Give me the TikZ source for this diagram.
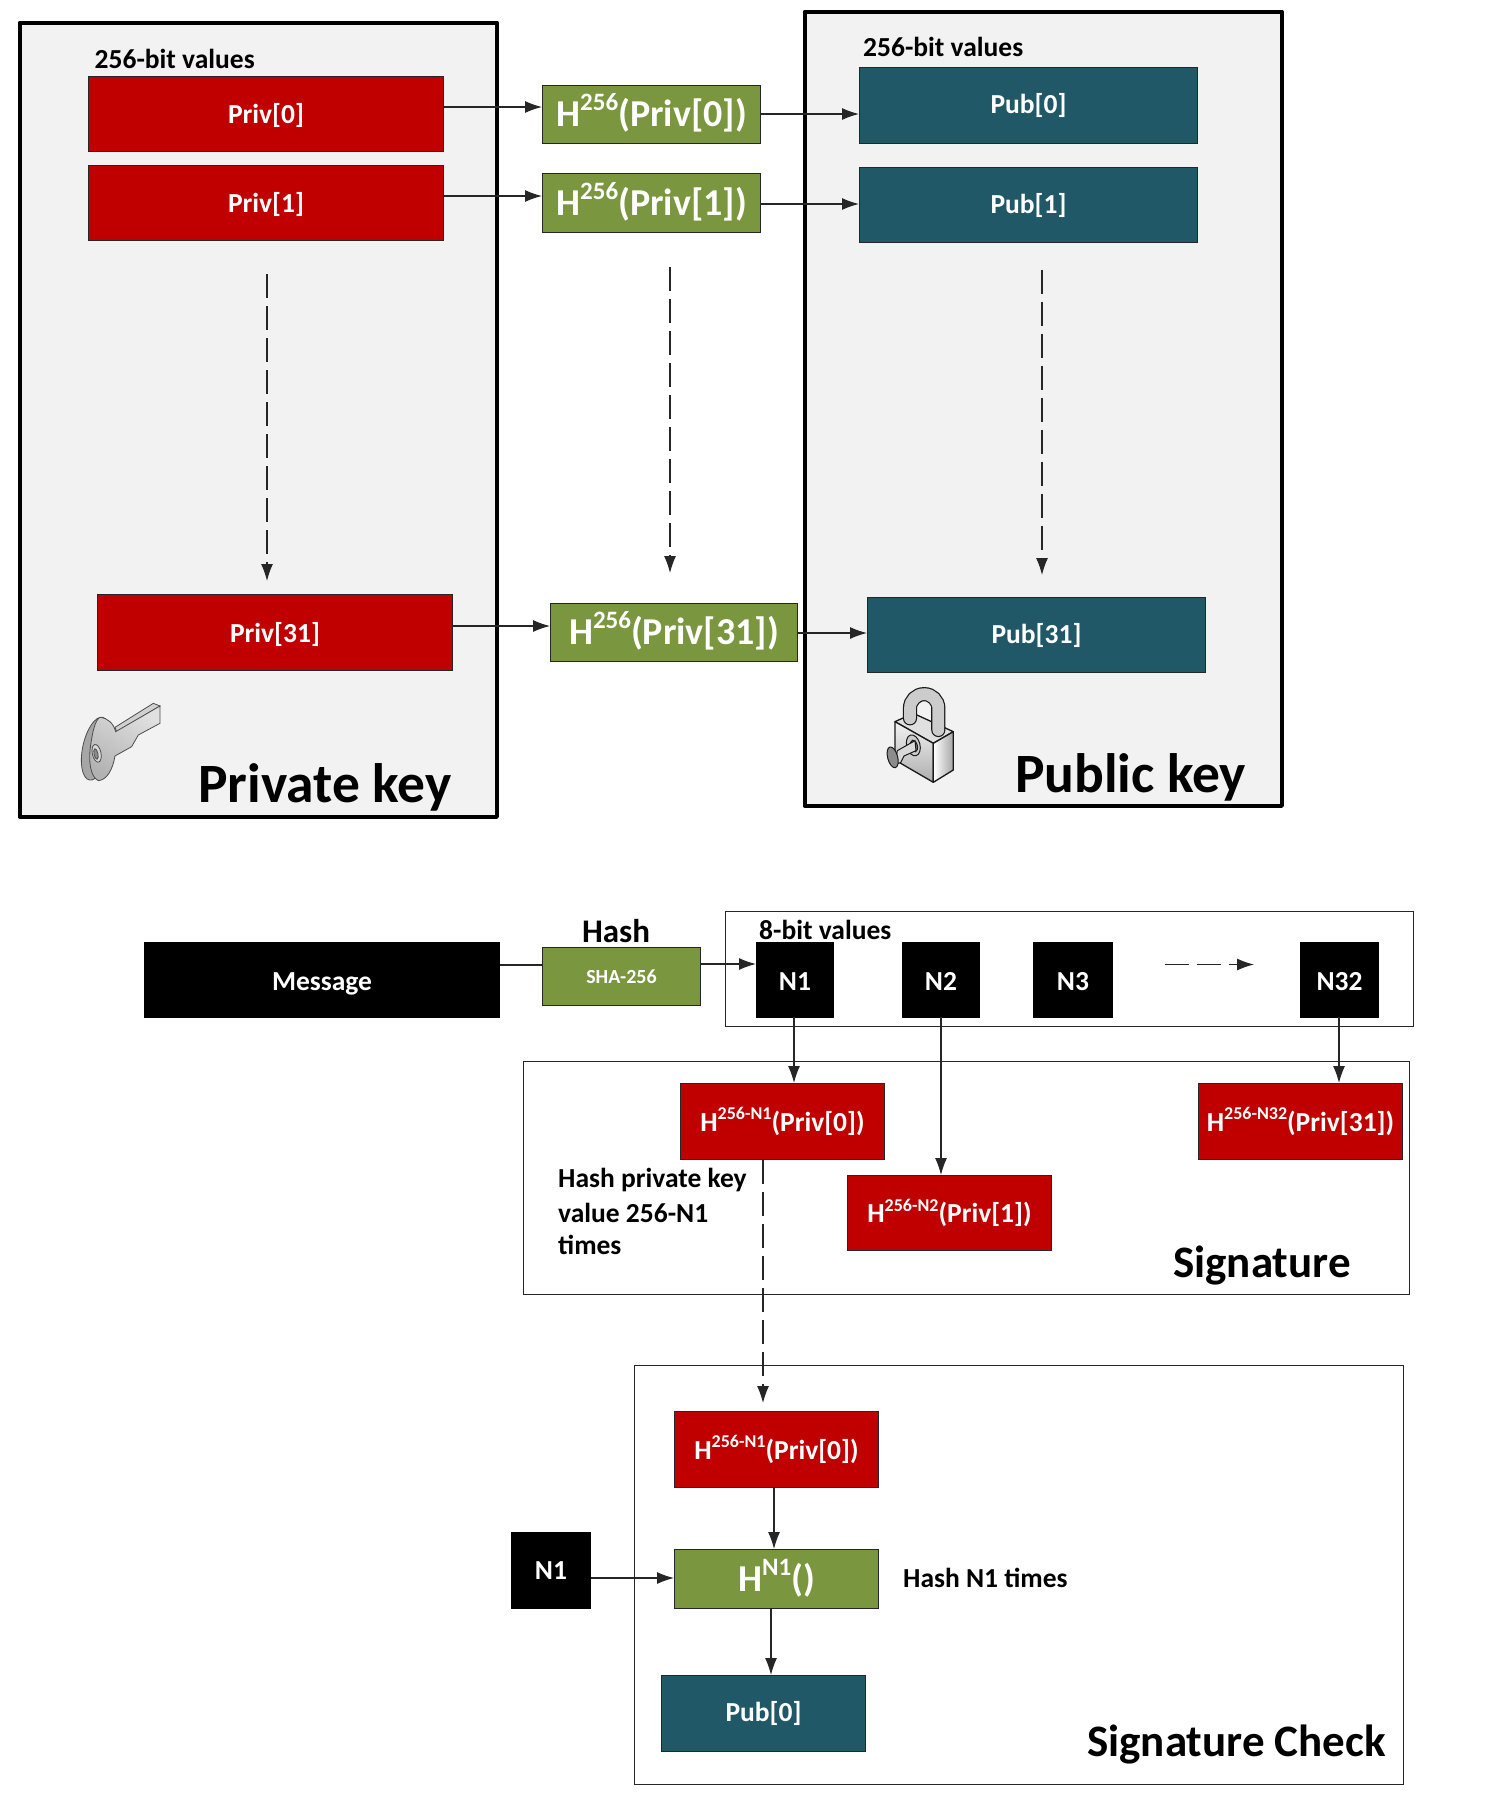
\documentclass[tikz,border=0pt]{standalone}
\usepackage{fontspec}
\setmainfont{Carlito}
\usetikzlibrary{arrows.meta}
\definecolor{cred}{HTML}{C00000}
\definecolor{cgreen}{HTML}{7A963F}
\definecolor{cteal}{HTML}{215868}
\definecolor{cframe}{HTML}{F2F2F2}
\definecolor{cline}{HTML}{262626}
\newcommand\fs[1]{\fontsize{#1}{#1}\selectfont}
\newcommand\hbig[2]{\raisebox{1.2pt}[\height][\depth]{\fs{38}H\raisebox{.42em}{\fs{25}#1}#2}}
\newcommand\hmid[2]{\fs{27.5}H\raisebox{.42em}{\fs{18}#1}#2}
\newcommand\dn[2]{\raisebox{-#1pt}[\height][\depth]{#2}}
\tikzset{
  bx/.style={draw=cline,line width=1pt,inner sep=0pt,text=white,font=\bfseries\fs{27.5}},
  redbox/.style={bx,fill=cred},
  greenbox/.style={bx,fill=cgreen},
  tealbox/.style={bx,fill=cteal},
  blackbox/.style={bx,fill=black,draw=black},
  bigframe/.style={draw=black,line width=4.5pt,fill=cframe,line join=round},
  thinframe/.style={draw=cline,line width=1.1pt,fill=white},
  lab/.style={inner sep=0pt,font=\bfseries\fs{27.5},text=black},
  title/.style={inner sep=0pt,font=\bfseries\fs{45},text=black},
  bigtitle/.style={inner sep=0pt,font=\bfseries\fs{55.5},text=black},
  conn/.style={draw=cline,line width=1.2pt,-{Latex[length=17pt,width=12pt]}},
  plain/.style={draw=cline,line width=1.2pt},
  dconn/.style={conn,dash pattern=on 24pt off 8pt},
}
\newcommand\bxn[6]{\node[#1,minimum width={#5-#3},minimum height={#6-#4},anchor=north west] (#2) at (#3,#4)}
\begin{document}
\begin{tikzpicture}[x=1pt,y=-1pt]
\path[use as bounding box,fill=white] (0,0) rectangle (1489,1807);
% top frames
\node[bigframe,minimum width=477pt,minimum height=794pt,anchor=north west,inner sep=0pt] (fpriv) at (17.5,20.5) {};
\node[bigframe,minimum width=477pt,minimum height=794pt,anchor=north west,inner sep=0pt] (fpub) at (802.5,9.5) {};
\node[lab,anchor=west] (l256a) at (94.5,59) {256-bit values};
\node[lab,anchor=west] (l256b) at (863,47) {256-bit values};
\bxn{redbox}{priv0}{88}{76}{443}{151} {\dn{1.2}{Priv[0]}};
\bxn{redbox}{priv1}{88}{165}{443}{240} {\dn{1.2}{Priv[1]}};
\bxn{redbox}{priv31}{97}{594}{452}{670} {\dn{1.5}{Priv[31]}};
\bxn{greenbox}{h0}{542}{85}{760}{143} {\hbig{256}{(Priv[0])}};
\bxn{greenbox}{h1}{542}{173}{760}{232} {\hbig{256}{(Priv[1])}};
\bxn{greenbox}{h31}{550}{603}{797}{661} {\hbig{256}{(Priv[31])}};
\bxn{tealbox}{pub0}{859}{67}{1197}{143} {Pub[0]};
\bxn{tealbox}{pub1}{859}{167}{1197}{242} {Pub[1]};
\bxn{tealbox}{pub31}{867}{597}{1205}{672} {Pub[31]};
\draw[conn] (priv0.east |- 0,107) -- (h0.west |- 0,107);
\draw[conn] (priv1.east |- 0,196) -- (h1.west |- 0,196);
\draw[conn] (priv31.east |- 0,626) -- (h31.west |- 0,626);
\draw[conn] (h0.east |- 0,114) -- (pub0.west |- 0,114);
\draw[conn] (h1.east |- 0,204) -- (pub1.west |- 0,204);
\draw[conn] (h31.east |- 0,633) -- (pub31.west |- 0,633);
\coordinate (d1a) at (267,274); \coordinate (d1b) at (267,581);
\coordinate (d2a) at (670,267); \coordinate (d2b) at (670,573);
\coordinate (d3a) at (1042,270); \coordinate (d3b) at (1042,575);
\draw[dconn] (d1a) -- (d1b);
\draw[dconn] (d2a) -- (d2b);
\draw[dconn] (d3a) -- (d3b);
\node[bigtitle,anchor=base west] (tpriv) at (198,802) {Private key};
\node[bigtitle,anchor=base west] (tpub) at (1015,792) {Public key};
% key icon
\begin{scope}[shift={(0,620)},x=0.3333pt,y=-0.3333pt,line width=.8pt,draw=black!70]
  \draw[fill=black!35,rotate around={-12:(288,386)}] (288,386) ellipse[x radius=40,y radius=96];
  \draw[fill=black!18] (345,322) -- (460,250) -- (480,258) -- (350,335) -- cycle;
  \draw[left color=black!12,right color=black!30,shading angle=-30]
    (300,292) .. controls (325,295) and (340,310) .. (347,335) -- (480,258) -- (480,310) -- (415,345) -- (395,380) -- (345,408)
    .. controls (338,450) and (320,480) .. (295,482) .. controls (270,470) and (265,420) .. (272,375) .. controls (278,335) and (285,300) .. (300,292) -- cycle;
  \draw[fill=black!15,rotate around={12:(290,400)}] (290,400) ellipse[x radius=13,y radius=27];
  \draw[fill=black!45,rotate around={12:(288,402)}] (288,402) ellipse[x radius=6,y radius=16];
\end{scope}
% lock icon
\begin{scope}[shift={(780,620)},x=0.3333pt,y=-0.3333pt]
  \draw[line width=1.3pt,draw=black!90,fill=black!12,line join=round] (345,305) -- (400,280) -- (520,335) -- (460,370) -- cycle;
  \draw[line width=1.3pt,draw=black!90,top color=black!5,bottom color=black!32,line join=round]
    (345,305) -- (460,370) -- (460,487) -- (345,420) -- cycle;
  \draw[line width=1.3pt,draw=black!90,left color=white,right color=black!35,line join=round]
    (460,370) -- (520,335) -- (520,450) -- (460,487) -- cycle;
  \path[fill=cframe] (410,265) arc[start angle=180,end angle=360,radius=22.5] -- (455,300) -- (410,280) -- cycle;
  \draw[black!90,line width=14.2pt,line cap=round] (390,295) -- (390,265) arc[start angle=180,end angle=360,radius=42.5] -- (475,330);
  \draw[black!20,line width=11.8pt,line cap=round] (390,295) -- (390,265) arc[start angle=180,end angle=360,radius=42.5] -- (475,330);
  \draw[line width=1pt,draw=black!90,fill=black!20,rotate around={15:(400,376)}] (400,376) ellipse[x radius=20,y radius=32];
  \draw[line width=1pt,draw=black!90,fill=black!50,rotate around={15:(402,378)}] (402,378) ellipse[x radius=10,y radius=18];
  \draw[line width=1pt,draw=black!90,fill=black!15] (405,362) -- (352,392) -- (345,432) -- (362,428) -- (372,408) -- (408,392) -- cycle;
  \draw[line width=1pt,draw=black!90,fill=black!45,rotate around={15:(338,412)}] (338,412) ellipse[x radius=15,y radius=32];
\end{scope}
% bottom part
\node[thinframe,minimum width=688pt,minimum height=115pt,anchor=north west,inner sep=0pt] (f8) at (725,911) {};
\node[thinframe,minimum width=886pt,minimum height=233pt,anchor=north west,inner sep=0pt] (fsig) at (523,1061) {};
\node[thinframe,minimum width=769pt,minimum height=419pt,anchor=north west,inner sep=0pt] (fchk) at (634,1365) {};
\bxn{blackbox}{msg}{144}{942}{499}{1017} {\dn{3.5}{Message}};
\bxn{greenbox}{sha}{542}{947}{700}{1005} {\fs{20}SHA-256};
\node[lab,font=\bfseries\fs{33}] (lhash) at (616,931) {Hash};
\node[lab,anchor=west] (l8) at (759,930) {8-bit values};
\bxn{blackbox}{n1}{756}{942}{833}{1017} {\dn{1.2}{N1}};
\bxn{blackbox}{n2}{902}{942}{979}{1017} {\dn{1.2}{N2}};
\bxn{blackbox}{n3}{1033}{942}{1112}{1017} {\dn{1.2}{N3}};
\bxn{blackbox}{n32}{1300}{942}{1378}{1017} {\dn{1.2}{N32}};
\draw[plain] (msg.east |- 0,965) -- (sha.west |- 0,965);
\draw[conn] (sha.east |- 0,964) -- (n1.west |- 0,964);
\coordinate (d4a) at (1165,964.5); \coordinate (d4b) at (1254,964.5);
\draw[dconn] (d4a) -- (d4b);
\bxn{redbox}{s1}{680}{1083}{884}{1159} {\hmid{256-N1}{(Priv[0])}};
\bxn{redbox}{s2}{847}{1175}{1051}{1250} {\hmid{256-N2}{(Priv[1])}};
\bxn{redbox}{s32}{1198}{1083}{1402}{1159} {\hmid{256-N32}{(Priv[31])}};
\draw[conn] (794,1017) -- (s1.north -| 794,0);
\draw[conn] (941,1017) -- (s2.north -| 941,0);
\draw[conn] (1339,1017) -- (s32.north -| 1339,0);
\node[lab,anchor=west] (t1) at (558,1180) {Hash private key};
\node[lab,anchor=west] (t2) at (558,1213) {value 256-N1};
\node[lab,anchor=west] (t3) at (558,1245) {times};
\node[title,anchor=base west] (tsig) at (1173,1277) {Signature};
\bxn{redbox}{c1}{674}{1411}{878}{1487} {\hmid{256-N1}{(Priv[0])}};
\bxn{greenbox}{c2}{674}{1549}{878}{1608} {\hbig{N1}{()}};
\bxn{tealbox}{c3}{661}{1675}{865}{1751} {Pub[0]};
\bxn{blackbox}{cn}{511}{1532}{590}{1608} {N1};
\draw[dconn,shorten >=8pt] (s1.south -| 763,0) -- (c1.north -| 763,0);
\draw[conn] (c1.south -| 774,0) -- (c2.north -| 774,0);
\draw[conn] (c2.south -| 771,0) -- (c3.north -| 771,0);
\draw[conn] (cn.east |- 0,1578) -- (c2.west |- 0,1578);
\node[lab,anchor=west] (t4) at (903,1578) {Hash N1 times};
\node[title,anchor=base west] (tchk) at (1087,1756) {Signature Check};
\end{tikzpicture}
\end{document}
